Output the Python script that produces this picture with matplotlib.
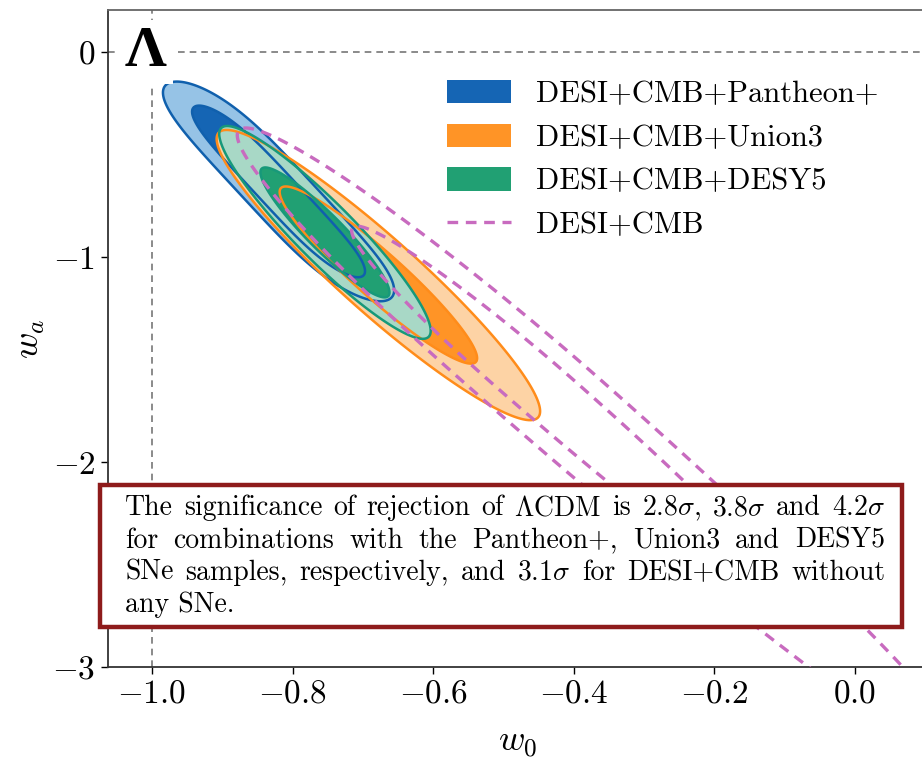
import numpy as np
import matplotlib
matplotlib.use('Agg')
import matplotlib.pyplot as plt
from matplotlib.patches import Patch, Rectangle
from matplotlib.lines import Line2D

plt.rcParams['font.family'] = 'serif'
plt.rcParams['font.serif'] = ['cmr10']
plt.rcParams['mathtext.fontset'] = 'cm'
plt.rcParams['axes.formatter.use_mathtext'] = True

# posterior shapes: centre, ridge slope dw0/dwa,
# spread along wa (above / below centre), profile exponent along the ridge
# and spread of w0 across the ridge
labels = ['DESI+CMB+Pantheon+', 'DESI+CMB+Union3', 'DESI+CMB+DESY5', 'DESI+CMB']
wa_center = [-0.68, -1.088, -0.88, -1.60]
w0_center = [-0.82, -0.678, -0.754, -0.461]
ridge_slope = [-0.27, -0.305, -0.268, -0.33]
wa_sd_up = [0.34, 0.285, 0.209, 0.495]
wa_sd_down = [0.34, 0.285, 0.209, 0.763]
wa_shape = [4.0, 2.0, 2.0, 2.0]
w0_sd_cond = [0.0235, 0.032, 0.023, 0.040]
chi2_levels = [2.30, 6.17]  # 68% and 95% for 2 parameters

xticks = [-1.0, -0.8, -0.6, -0.4, -0.2, 0.0]
yticks = [0, -1, -2, -3]

note_lines = [r"The significance of rejection of $\Lambda$CDM is 2.8$\sigma$, 3.8$\sigma$ and 4.2$\sigma$",
              "for combinations with the Pantheon+, Union3 and DESY5",
              r"SNe samples, respectively, and 3.1$\sigma$ for DESI+CMB without",
              "any SNe."]

dark = ['#1565b4', '#ff9426', '#21a073']
light = ['#96c3e6', '#fdd3a5', '#a8d8c6']
edge = ['#1060ad', '#ff8c1a', '#17997a']
pink = '#c86bbf'
dash = (0, (3.2, 2.3))

def chi2(W0, WA, i):
    d = WA - wa_center[i]
    za = np.where(d > 0, d / wa_sd_up[i], d / wa_sd_down[i])
    zv = (W0 - w0_center[i] - ridge_slope[i]*d) / w0_sd_cond[i]
    return np.abs(za)**wa_shape[i] + zv*zv

fig = plt.figure(figsize=(9.22, 7.71), dpi=100)
ax = fig.add_axes([108/922, 1-667/771, (927-108)/922, (667-10)/771])

W0, WA = np.meshgrid(np.linspace(-1.3, 0.4, 800), np.linspace(-4.0, 0.6, 800))

ax.axvline(-1, color='#777777', lw=1.2, ls=(0, (4, 3)), zorder=0)
ax.axhline(0, color='#777777', lw=1.2, ls=(0, (4, 3)), zorder=0)

for i in range(3):
    ax.contourf(W0, WA, chi2(W0, WA, i), levels=[0] + chi2_levels,
                colors=[dark[i], light[i]], zorder=1+i)
for i in range(3):
    ax.contour(W0, WA, chi2(W0, WA, i), levels=chi2_levels,
               colors=edge[i], linewidths=1.8, zorder=5)
ax.contour(W0, WA, chi2(W0, WA, 3), levels=chi2_levels, colors=pink,
           linewidths=2.4, linestyles=[dash], zorder=6)

ax.text(-1.0085, 0.0, 'Λ', fontsize=42, fontweight='bold', family='Liberation Serif',
        ha='center', va='center', zorder=7,
        bbox=dict(facecolor='white', edgecolor='none', pad=4))

ax.set_xlim(-1.0626, 0.1024)
ax.set_ylim(-3, 0.205)
ax.set_xticks(xticks)
ax.set_yticks(yticks)
ax.tick_params(direction='out', length=5, width=1, labelsize=24, pad=4)
for s in ['left', 'bottom']:
    ax.spines[s].set_color('#333333')
    ax.spines[s].set_linewidth(1.3)
ax.spines['top'].set_color('#666666')
ax.spines['top'].set_linewidth(1.3)
ax.set_xlabel(r'$w_0$', fontsize=26, labelpad=14)
ax.set_ylabel(r'$w_a$', fontsize=26, labelpad=4)

handles = [Patch(facecolor=c) for c in dark]
handles.append(Line2D([], [], color=pink, lw=2.4, ls=dash))
ax.legend(handles, labels, loc='upper left', bbox_to_anchor=(447/922, 1-80/771),
          bbox_transform=fig.transFigure, frameon=False, fontsize=22,
          handlelength=2.1, handleheight=0.8, handletextpad=0.8,
          labelspacing=0.5, borderpad=0, borderaxespad=0)

# note box in figure pixels
fig.patches.append(Rectangle((100/922, 1-627/771), 802/922, 142/771,
                             transform=fig.transFigure, facecolor='white',
                             edgecolor='#8e1b1b', lw=3.2, zorder=10))

renderer = fig.canvas.get_renderer()
x_left, x_right = 125/922, 885/922
for i, line in enumerate(note_lines):
    y = 1 - (515 + 32.5*i)/771
    if i == len(note_lines) - 1:
        fig.text(x_left, y, line, fontsize=20, va='baseline', zorder=11)
        continue
    words = line.split(' ')
    texts = [fig.text(0, y, w, fontsize=20, va='baseline', zorder=11) for w in words]
    widths = [t.get_window_extent(renderer).width / fig.bbox.width for t in texts]
    gap = (x_right - x_left - sum(widths)) / (len(words) - 1)
    x = x_left
    for t, w in zip(texts, widths):
        t.set_x(x)
        x += w + gap

fig.savefig('out.png', dpi=100)
